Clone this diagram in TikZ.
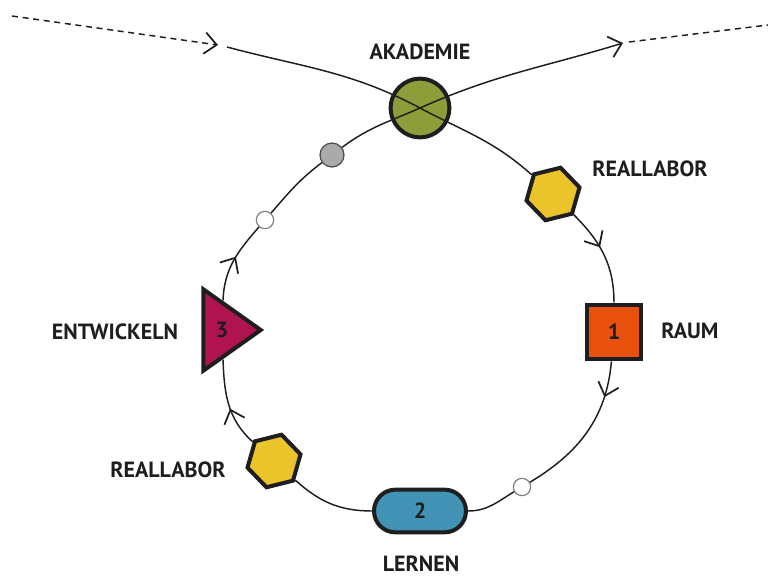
\documentclass[tikz,border=0pt]{standalone}
\usepackage{fontspec}
\setmainfont{PT Sans}
\usetikzlibrary{shapes.geometric,shapes.misc,arrows.meta,decorations.markings}

\definecolor{akgreen}{RGB}{140,157,58}
\definecolor{labyellow}{RGB}{234,196,42}
\definecolor{raumorange}{RGB}{232,80,14}
\definecolor{lernblue}{RGB}{66,146,181}
\definecolor{entwred}{RGB}{176,20,80}
\definecolor{dotgray}{RGB}{170,170,170}
\definecolor{ink}{RGB}{30,30,30}

\tikzset{
  chev/.tip={Straight Barb[length=9pt,width=16pt,line width=1.3pt]},
  station/.style={draw=ink, line width=3pt, inner sep=0pt},
  hexa/.style={station, regular polygon, regular polygon sides=6,
    shape border rotate=14, minimum size=41pt, fill=labyellow},
  dot/.style={circle, inner sep=0pt, draw=gray, line width=0.9pt, fill=white, minimum size=13pt},
  tag/.style={font=\fontsize{16.5}{18}\selectfont\bfseries, text=ink},
  ring/.style={line width=1.1pt, draw=ink},
  midarrow/.style={postaction={decorate},
    decoration={markings, mark=at position #1 with {\arrow{chev}}}}
}

\begin{document}
\begin{tikzpicture}[x=0.75pt, y=0.75pt]
    \useasboundingbox (0,0) rectangle (768,576);

    % Stations
    \node[station, circle, minimum size=44pt, fill=akgreen] (ak) at (420,468) {};
    \node[hexa] (labR) at (553,382) {};
    \node[station, rectangle, minimum size=41pt, fill=raumorange, tag] (raum) at (614,244) {1};
    \node[station, rounded rectangle, minimum width=69pt, minimum height=32pt,
      fill=lernblue, tag] (lern) at (420,65) {2};
    \node[hexa] (labL) at (274,115) {};
    \node[station, isosceles triangle, isosceles triangle stretches,
      minimum width=61pt, minimum height=43pt, fill=entwred, tag] (entw) at (222,246) {3};

    % Small dots
    \node[dot] (w1) at (522,89) {};
    \node[dot] (w2) at (265,356) {};
    \node[dot, minimum size=18pt, fill=dotgray, draw=ink!80] (g1) at (332,421) {};

    % Loose ends
    \coordinate (dashL) at (12,560);
    \coordinate (tipL) at (218,531);
    \coordinate (inL) at (227,529);
    \coordinate (outR) at (623,533);
    \coordinate (dashR) at (629,534);
    \coordinate (endR) at (768,551);

    % Loop
    \draw[ring] (inL) to[out=-15,in=152] (ak.center);
    \draw[ring] (ak.center) to[out=-28,in=138] (labR);
    \draw[ring, midarrow=0.42] (labR) to[out=-45,in=90] (raum);
    \draw[ring, midarrow=0.24] (raum) to[out=-95,in=31] (w1);
    \draw[ring] (w1) to[out=211,in=0] (lern);
    \draw[ring] (lern) to[out=180,in=-42] (labL);
    \draw[ring, midarrow=0.45] (labL) to[out=138,in=-88] (entw);
    \draw[ring, midarrow=0.55] (entw) to[out=88,in=-131] (w2);
    \draw[ring] (w2) to[out=49,in=-143] (g1);
    \draw[ring] (g1) to[out=37,in=-156] (ak.center);
    \draw[ring, -chev] (ak.center) to[out=24,in=-163] (outR);

    % Dashed in and out
    \draw[ring, dash pattern=on 4.5pt off 3.5pt, -chev] (dashL) -- (tipL);
    \draw[ring, dash pattern=on 4.5pt off 3.5pt] (dashR) -- (endR);

    % Labels
    \node[tag] (akTxt) at (420,524) {AKADEMIE};
    \node[tag] (labRTxt) at (650,407) {REALLABOR};
    \node[tag] (raumTxt) at (690,245) {RAUM};
    \node[tag] (entwTxt) at (115,244) {ENTWICKELN};
    \node[tag] (labLTxt) at (168,106) {REALLABOR};
    \node[tag] (lernTxt) at (421,12) {LERNEN};
\end{tikzpicture}
\end{document}
